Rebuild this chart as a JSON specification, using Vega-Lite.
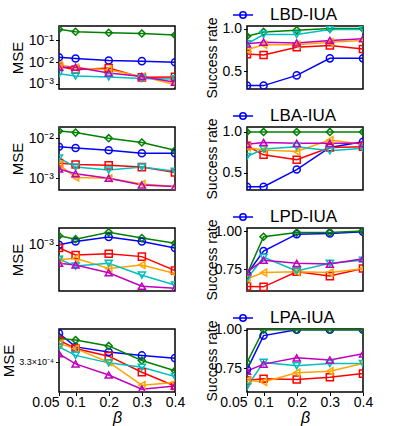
{
 "$schema": "https://vega.github.io/schema/vega-lite/v6.json",
 "padding": {"left": 0, "top": 3, "right": 5, "bottom": 0},
 "spacing": {"row": 5, "column": 18},
 "columns": 2,
 "resolve": {"scale": {"color": "independent", "stroke": "independent", "shape": "independent", "size": "independent"}, "legend": {"color": "independent", "stroke": "independent", "shape": "independent", "size": "independent"}},
 "config": {
  "font": "Liberation Sans",
  "view": {"stroke": "black", "strokeWidth": 1.5},
  "axis": {"domain": false, "grid": false, "tickColor": "black", "tickSize": 3.5, "tickWidth": 1, "labelColor": "black", "labelFontSize": 14, "labelPadding": 2, "titleColor": "black", "titleFontWeight": "normal", "titleFontSize": 14, "labelFlush": false, "labelOverlap": false},
  "legend": {"labelColor": "black", "padding": 0}
 },
 "data": {"values": [
  {"p":"1m","s":"S1","b":0.05,"v":0.0166},{"p":"1m","s":"S1","b":0.1,"v":0.0145},{"p":"1m","s":"S1","b":0.2,"v":0.0117},{"p":"1m","s":"S1","b":0.3,"v":0.011},{"p":"1m","s":"S1","b":0.4,"v":0.0098},
  {"p":"1m","s":"S2","b":0.05,"v":0.31},{"p":"1m","s":"S2","b":0.1,"v":0.24},{"p":"1m","s":"S2","b":0.2,"v":0.216},{"p":"1m","s":"S2","b":0.3,"v":0.2},{"p":"1m","s":"S2","b":0.4,"v":0.17},
  {"p":"1m","s":"S3","b":0.05,"v":0.0063},{"p":"1m","s":"S3","b":0.1,"v":0.0045},{"p":"1m","s":"S3","b":0.2,"v":0.0053},{"p":"1m","s":"S3","b":0.3,"v":0.002},{"p":"1m","s":"S3","b":0.4,"v":0.0021},
  {"p":"1m","s":"S6","b":0.05,"v":0.0077},{"p":"1m","s":"S6","b":0.1,"v":0.0054},{"p":"1m","s":"S6","b":0.2,"v":0.0045},{"p":"1m","s":"S6","b":0.3,"v":0.0022},{"p":"1m","s":"S6","b":0.4,"v":0.00095},
  {"p":"1m","s":"S4","b":0.05,"v":0.0029},{"p":"1m","s":"S4","b":0.1,"v":0.0023},{"p":"1m","s":"S4","b":0.2,"v":0.0021},{"p":"1m","s":"S4","b":0.3,"v":0.0018},{"p":"1m","s":"S4","b":0.4,"v":0.0017},
  {"p":"1m","s":"S5","b":0.05,"v":0.0058},{"p":"1m","s":"S5","b":0.1,"v":0.0058},{"p":"1m","s":"S5","b":0.2,"v":0.0032},{"p":"1m","s":"S5","b":0.3,"v":0.0022},{"p":"1m","s":"S5","b":0.4,"v":0.0012},

  {"p":"1s","s":"S1","b":0.05,"v":0.33},{"p":"1s","s":"S1","b":0.1,"v":0.33},{"p":"1s","s":"S1","b":0.2,"v":0.45},{"p":"1s","s":"S1","b":0.3,"v":0.65},{"p":"1s","s":"S1","b":0.4,"v":0.65},
  {"p":"1s","s":"S2","b":0.05,"v":0.91},{"p":"1s","s":"S2","b":0.1,"v":0.96},{"p":"1s","s":"S2","b":0.2,"v":0.98},{"p":"1s","s":"S2","b":0.3,"v":1.0},{"p":"1s","s":"S2","b":0.4,"v":1.0},
  {"p":"1s","s":"S3","b":0.05,"v":0.70},{"p":"1s","s":"S3","b":0.1,"v":0.69},{"p":"1s","s":"S3","b":0.2,"v":0.78},{"p":"1s","s":"S3","b":0.3,"v":0.80},{"p":"1s","s":"S3","b":0.4,"v":0.76},
  {"p":"1s","s":"S6","b":0.05,"v":0.75},{"p":"1s","s":"S6","b":0.1,"v":0.81},{"p":"1s","s":"S6","b":0.2,"v":0.81},{"p":"1s","s":"S6","b":0.3,"v":0.84},{"p":"1s","s":"S6","b":0.4,"v":0.86},
  {"p":"1s","s":"S4","b":0.05,"v":0.82},{"p":"1s","s":"S4","b":0.1,"v":0.93},{"p":"1s","s":"S4","b":0.2,"v":0.93},{"p":"1s","s":"S4","b":0.3,"v":0.99},{"p":"1s","s":"S4","b":0.4,"v":0.99},
  {"p":"1s","s":"S5","b":0.05,"v":0.82},{"p":"1s","s":"S5","b":0.1,"v":0.84},{"p":"1s","s":"S5","b":0.2,"v":0.83},{"p":"1s","s":"S5","b":0.3,"v":0.86},{"p":"1s","s":"S5","b":0.4,"v":0.88},

  {"p":"2m","s":"S1","b":0.05,"v":0.0061},{"p":"2m","s":"S1","b":0.1,"v":0.0057},{"p":"2m","s":"S1","b":0.2,"v":0.005},{"p":"2m","s":"S1","b":0.3,"v":0.0042},{"p":"2m","s":"S1","b":0.4,"v":0.0042},
  {"p":"2m","s":"S2","b":0.05,"v":0.0151},{"p":"2m","s":"S2","b":0.1,"v":0.0138},{"p":"2m","s":"S2","b":0.2,"v":0.01},{"p":"2m","s":"S2","b":0.3,"v":0.0078},{"p":"2m","s":"S2","b":0.4,"v":0.005},
  {"p":"2m","s":"S3","b":0.05,"v":0.0024},{"p":"2m","s":"S3","b":0.1,"v":0.0022},{"p":"2m","s":"S3","b":0.2,"v":0.0021},{"p":"2m","s":"S3","b":0.3,"v":0.0019},{"p":"2m","s":"S3","b":0.4,"v":0.0014},
  {"p":"2m","s":"S6","b":0.05,"v":0.0022},{"p":"2m","s":"S6","b":0.1,"v":0.00105},{"p":"2m","s":"S6","b":0.2,"v":0.001},{"p":"2m","s":"S6","b":0.3,"v":0.00072},{"p":"2m","s":"S6","b":0.4,"v":0.00062},
  {"p":"2m","s":"S4","b":0.05,"v":0.0032},{"p":"2m","s":"S4","b":0.1,"v":0.0019},{"p":"2m","s":"S4","b":0.2,"v":0.0016},{"p":"2m","s":"S4","b":0.3,"v":0.0019},{"p":"2m","s":"S4","b":0.4,"v":0.0015},
  {"p":"2m","s":"S5","b":0.05,"v":0.0017},{"p":"2m","s":"S5","b":0.1,"v":0.0013},{"p":"2m","s":"S5","b":0.2,"v":0.001},{"p":"2m","s":"S5","b":0.3,"v":0.00068},{"p":"2m","s":"S5","b":0.4,"v":0.00062},

  {"p":"2s","s":"S1","b":0.05,"v":0.33},{"p":"2s","s":"S1","b":0.1,"v":0.33},{"p":"2s","s":"S1","b":0.2,"v":0.54},{"p":"2s","s":"S1","b":0.3,"v":0.81},{"p":"2s","s":"S1","b":0.4,"v":0.88},
  {"p":"2s","s":"S2","b":0.05,"v":1.0},{"p":"2s","s":"S2","b":0.1,"v":1.0},{"p":"2s","s":"S2","b":0.2,"v":1.0},{"p":"2s","s":"S2","b":0.3,"v":1.0},{"p":"2s","s":"S2","b":0.4,"v":1.0},
  {"p":"2s","s":"S3","b":0.05,"v":0.83},{"p":"2s","s":"S3","b":0.1,"v":0.72},{"p":"2s","s":"S3","b":0.2,"v":0.66},{"p":"2s","s":"S3","b":0.3,"v":0.81},{"p":"2s","s":"S3","b":0.4,"v":0.82},
  {"p":"2s","s":"S6","b":0.05,"v":0.81},{"p":"2s","s":"S6","b":0.1,"v":0.78},{"p":"2s","s":"S6","b":0.2,"v":0.76},{"p":"2s","s":"S6","b":0.3,"v":0.90},{"p":"2s","s":"S6","b":0.4,"v":0.85},
  {"p":"2s","s":"S4","b":0.05,"v":0.70},{"p":"2s","s":"S4","b":0.1,"v":0.79},{"p":"2s","s":"S4","b":0.2,"v":0.82},{"p":"2s","s":"S4","b":0.3,"v":0.77},{"p":"2s","s":"S4","b":0.4,"v":0.80},
  {"p":"2s","s":"S5","b":0.05,"v":0.85},{"p":"2s","s":"S5","b":0.1,"v":0.87},{"p":"2s","s":"S5","b":0.2,"v":0.86},{"p":"2s","s":"S5","b":0.3,"v":0.86},{"p":"2s","s":"S5","b":0.4,"v":0.86},

  {"p":"3m","s":"S1","b":0.05,"v":0.001},{"p":"3m","s":"S1","b":0.1,"v":0.00113},{"p":"3m","s":"S1","b":0.2,"v":0.00133},{"p":"3m","s":"S1","b":0.3,"v":0.00113},{"p":"3m","s":"S1","b":0.4,"v":0.00089},
  {"p":"3m","s":"S2","b":0.05,"v":0.00139},{"p":"3m","s":"S2","b":0.1,"v":0.00123},{"p":"3m","s":"S2","b":0.2,"v":0.00158},{"p":"3m","s":"S2","b":0.3,"v":0.00128},{"p":"3m","s":"S2","b":0.4,"v":0.00106},
  {"p":"3m","s":"S3","b":0.05,"v":0.00089},{"p":"3m","s":"S3","b":0.1,"v":0.00069},{"p":"3m","s":"S3","b":0.2,"v":0.00072},{"p":"3m","s":"S3","b":0.3,"v":0.00065},{"p":"3m","s":"S3","b":0.4,"v":0.00039},
  {"p":"3m","s":"S6","b":0.05,"v":0.00058},{"p":"3m","s":"S6","b":0.1,"v":0.00061},{"p":"3m","s":"S6","b":0.2,"v":0.00042},{"p":"3m","s":"S6","b":0.3,"v":0.00048},{"p":"3m","s":"S6","b":0.4,"v":0.00035},
  {"p":"3m","s":"S4","b":0.05,"v":0.00059},{"p":"3m","s":"S4","b":0.1,"v":0.00046},{"p":"3m","s":"S4","b":0.2,"v":0.00051},{"p":"3m","s":"S4","b":0.3,"v":0.00033},{"p":"3m","s":"S4","b":0.4,"v":0.00023},
  {"p":"3m","s":"S5","b":0.05,"v":0.00051},{"p":"3m","s":"S5","b":0.1,"v":0.00048},{"p":"3m","s":"S5","b":0.2,"v":0.00036},{"p":"3m","s":"S5","b":0.3,"v":0.00022},{"p":"3m","s":"S5","b":0.4,"v":0.000204},

  {"p":"3s","s":"S1","b":0.05,"v":0.72},{"p":"3s","s":"S1","b":0.1,"v":0.87},{"p":"3s","s":"S1","b":0.2,"v":0.98},{"p":"3s","s":"S1","b":0.3,"v":0.985},{"p":"3s","s":"S1","b":0.4,"v":0.995},
  {"p":"3s","s":"S2","b":0.05,"v":0.72},{"p":"3s","s":"S2","b":0.1,"v":0.963},{"p":"3s","s":"S2","b":0.2,"v":0.99},{"p":"3s","s":"S2","b":0.3,"v":0.99},{"p":"3s","s":"S2","b":0.4,"v":1.0},
  {"p":"3s","s":"S3","b":0.05,"v":0.64},{"p":"3s","s":"S3","b":0.1,"v":0.637},{"p":"3s","s":"S3","b":0.2,"v":0.735},{"p":"3s","s":"S3","b":0.3,"v":0.707},{"p":"3s","s":"S3","b":0.4,"v":0.757},
  {"p":"3s","s":"S6","b":0.05,"v":0.69},{"p":"3s","s":"S6","b":0.1,"v":0.73},{"p":"3s","s":"S6","b":0.2,"v":0.735},{"p":"3s","s":"S6","b":0.3,"v":0.73},{"p":"3s","s":"S6","b":0.4,"v":0.755},
  {"p":"3s","s":"S4","b":0.05,"v":0.69},{"p":"3s","s":"S4","b":0.1,"v":0.83},{"p":"3s","s":"S4","b":0.2,"v":0.74},{"p":"3s","s":"S4","b":0.3,"v":0.79},{"p":"3s","s":"S4","b":0.4,"v":0.81},
  {"p":"3s","s":"S5","b":0.05,"v":0.735},{"p":"3s","s":"S5","b":0.1,"v":0.81},{"p":"3s","s":"S5","b":0.2,"v":0.79},{"p":"3s","s":"S5","b":0.3,"v":0.785},{"p":"3s","s":"S5","b":0.4,"v":0.82},

  {"p":"4m","s":"S1","b":0.05,"v":0.000552},{"p":"4m","s":"S1","b":0.1,"v":0.000431},{"p":"4m","s":"S1","b":0.2,"v":0.000393},{"p":"4m","s":"S1","b":0.3,"v":0.000369},{"p":"4m","s":"S1","b":0.4,"v":0.000351},
  {"p":"4m","s":"S2","b":0.05,"v":0.000503},{"p":"4m","s":"S2","b":0.1,"v":0.000488},{"p":"4m","s":"S2","b":0.2,"v":0.000439},{"p":"4m","s":"S2","b":0.3,"v":0.000336},{"p":"4m","s":"S2","b":0.4,"v":0.000279},
  {"p":"4m","s":"S3","b":0.05,"v":0.000488},{"p":"4m","s":"S3","b":0.1,"v":0.000418},{"p":"4m","s":"S3","b":0.2,"v":0.000364},{"p":"4m","s":"S3","b":0.3,"v":0.000271},{"p":"4m","s":"S3","b":0.4,"v":0.000211},
  {"p":"4m","s":"S6","b":0.05,"v":0.000458},{"p":"4m","s":"S6","b":0.1,"v":0.000418},{"p":"4m","s":"S6","b":0.2,"v":0.000326},{"p":"4m","s":"S6","b":0.3,"v":0.000214},{"p":"4m","s":"S6","b":0.4,"v":0.000225},
  {"p":"4m","s":"S4","b":0.05,"v":0.000431},{"p":"4m","s":"S4","b":0.1,"v":0.000369},{"p":"4m","s":"S4","b":0.2,"v":0.000322},{"p":"4m","s":"S4","b":0.3,"v":0.000297},{"p":"4m","s":"S4","b":0.4,"v":0.000251},
  {"p":"4m","s":"S5","b":0.05,"v":0.00038},{"p":"4m","s":"S5","b":0.1,"v":0.000316},{"p":"4m","s":"S5","b":0.2,"v":0.000258},{"p":"4m","s":"S5","b":0.3,"v":0.000199},{"p":"4m","s":"S5","b":0.4,"v":0.000211},

  {"p":"4s","s":"S1","b":0.05,"v":0.74},{"p":"4s","s":"S1","b":0.1,"v":0.962},{"p":"4s","s":"S1","b":0.2,"v":1.0},{"p":"4s","s":"S1","b":0.3,"v":1.0},{"p":"4s","s":"S1","b":0.4,"v":1.0},
  {"p":"4s","s":"S2","b":0.05,"v":0.787},{"p":"4s","s":"S2","b":0.1,"v":1.0},{"p":"4s","s":"S2","b":0.2,"v":1.0},{"p":"4s","s":"S2","b":0.3,"v":1.0},{"p":"4s","s":"S2","b":0.4,"v":1.0},
  {"p":"4s","s":"S3","b":0.05,"v":0.67},{"p":"4s","s":"S3","b":0.1,"v":0.68},{"p":"4s","s":"S3","b":0.2,"v":0.676},{"p":"4s","s":"S3","b":0.3,"v":0.69},{"p":"4s","s":"S3","b":0.4,"v":0.714},
  {"p":"4s","s":"S6","b":0.05,"v":0.67},{"p":"4s","s":"S6","b":0.1,"v":0.66},{"p":"4s","s":"S6","b":0.2,"v":0.72},{"p":"4s","s":"S6","b":0.3,"v":0.73},{"p":"4s","s":"S6","b":0.4,"v":0.78},
  {"p":"4s","s":"S4","b":0.05,"v":0.63},{"p":"4s","s":"S4","b":0.1,"v":0.787},{"p":"4s","s":"S4","b":0.2,"v":0.765},{"p":"4s","s":"S4","b":0.3,"v":0.78},{"p":"4s","s":"S4","b":0.4,"v":0.78},
  {"p":"4s","s":"S5","b":0.05,"v":0.73},{"p":"4s","s":"S5","b":0.1,"v":0.776},{"p":"4s","s":"S5","b":0.2,"v":0.817},{"p":"4s","s":"S5","b":0.3,"v":0.803},{"p":"4s","s":"S5","b":0.4,"v":0.843}
 ]},
 "concat": [
  {"width":116,"height":63,"transform":[{"filter":"datum.p=='1m'"}],
   "encoding":{
    "x":{"field":"b","type":"quantitative","scale":{"domain":[0.05,0.4],"nice":false,"zero":false},"axis":null},
    "y":{"field":"v","type":"quantitative","scale":{"type":"log","domain":[0.00059,0.44],"nice":false},"axis":{"title":"MSE","titleFontSize":15,"titleX":-37,"titleY":31.5,"titleBaseline":"alphabetic","titleAngle":-90,"values":[0.1,0.01,0.001],"labelExpr":"datum.value>0.05?'10⁻¹':datum.value>0.005?'10⁻²':'10⁻³'"}}},
   "layer":[
    {"mark":{"type":"line","strokeWidth":1.5,"clip":true},"encoding":{"color":{"field":"s","type":"nominal","scale":{"domain":["S1","S2","S3","S4","S5","S6"],"range":["#0000ff","#008000","#ff0000","#00bfbf","#bf00bf","#ffa500"]},"legend":null}}},
    {"mark":{"type":"point","filled":false,"strokeWidth":1.5,"opacity":1,"clip":true},"encoding":{
      "stroke":{"field":"s","type":"nominal","scale":{"domain":["S6","S5","S4","S3","S2","S1"],"range":["#ffa500","#bf00bf","#00bfbf","#ff0000","#008000","#0000ff"]},"legend":null},
      "shape":{"field":"s","type":"nominal","scale":{"domain":["S6","S5","S4","S3","S2","S1"],"range":["triangle-left","triangle-up","triangle-down","square","diamond","circle"]},"legend":null},
      "size":{"field":"s","type":"ordinal","scale":{"domain":["S6","S5","S4","S3","S2","S1"],"range":[50,50,50,45,70,45]},"legend":null}}}
   ]},
  {"width":116,"height":63,"transform":[{"filter":"datum.p=='1s'"}],
   "encoding":{
    "x":{"field":"b","type":"quantitative","scale":{"domain":[0.05,0.4],"nice":false,"zero":false},"axis":null},
    "y":{"field":"v","type":"quantitative","scale":{"domain":[0.29,1.03],"nice":false,"zero":false},"axis":{"title":"Success rate","titleX":-31,"titleY":31.5,"titleBaseline":"alphabetic","titleAngle":-90,"values":[0.5,1],"format":".1f"}}},
   "layer":[
    {"mark":{"type":"line","strokeWidth":1.5,"clip":true},"encoding":{"color":{"field":"s","type":"nominal","scale":{"domain":["S1","S2","S3","S4","S5","S6"],"range":["#0000ff","#008000","#ff0000","#00bfbf","#bf00bf","#ffa500"]},"legend":{"values":["S1"],"labelExpr":"'LBD-IUA'","orient":"none","legendX":-15,"legendY":-22,"title":null,"symbolType":"M-1,0L1,0M-0.32,0A0.32,0.32,0,1,1,0.32,0A0.32,0.32,0,1,1,-0.32,0","symbolSize":400,"symbolStrokeWidth":1.5,"symbolFillColor":"transparent","labelFontSize":17,"labelOffset":16}}}},
    {"mark":{"type":"point","filled":false,"strokeWidth":1.5,"opacity":1,"clip":true},"encoding":{
      "stroke":{"field":"s","type":"nominal","scale":{"domain":["S6","S5","S4","S3","S2","S1"],"range":["#ffa500","#bf00bf","#00bfbf","#ff0000","#008000","#0000ff"]},"legend":null},
      "shape":{"field":"s","type":"nominal","scale":{"domain":["S6","S5","S4","S3","S2","S1"],"range":["triangle-left","triangle-up","triangle-down","square","diamond","circle"]},"legend":null},
      "size":{"field":"s","type":"ordinal","scale":{"domain":["S6","S5","S4","S3","S2","S1"],"range":[50,50,50,45,70,45]},"legend":null}}}
   ]},
  {"width":116,"height":63,"transform":[{"filter":"datum.p=='2m'"}],
   "encoding":{
    "x":{"field":"b","type":"quantitative","scale":{"domain":[0.05,0.4],"nice":false,"zero":false},"axis":null},
    "y":{"field":"v","type":"quantitative","scale":{"type":"log","domain":[0.00051,0.019],"nice":false},"axis":{"title":"MSE","titleFontSize":15,"titleX":-37,"titleY":31.5,"titleBaseline":"alphabetic","titleAngle":-90,"values":[0.01,0.001],"labelExpr":"datum.value>0.005?'10⁻²':'10⁻³'"}}},
   "layer":[
    {"mark":{"type":"line","strokeWidth":1.5,"clip":true},"encoding":{"color":{"field":"s","type":"nominal","scale":{"domain":["S1","S2","S3","S4","S5","S6"],"range":["#0000ff","#008000","#ff0000","#00bfbf","#bf00bf","#ffa500"]},"legend":null}}},
    {"mark":{"type":"point","filled":false,"strokeWidth":1.5,"opacity":1,"clip":true},"encoding":{
      "stroke":{"field":"s","type":"nominal","scale":{"domain":["S6","S5","S4","S3","S2","S1"],"range":["#ffa500","#bf00bf","#00bfbf","#ff0000","#008000","#0000ff"]},"legend":null},
      "shape":{"field":"s","type":"nominal","scale":{"domain":["S6","S5","S4","S3","S2","S1"],"range":["triangle-left","triangle-up","triangle-down","square","diamond","circle"]},"legend":null},
      "size":{"field":"s","type":"ordinal","scale":{"domain":["S6","S5","S4","S3","S2","S1"],"range":[50,50,50,45,70,45]},"legend":null}}}
   ]},
  {"width":116,"height":63,"transform":[{"filter":"datum.p=='2s'"}],
   "encoding":{
    "x":{"field":"b","type":"quantitative","scale":{"domain":[0.05,0.4],"nice":false,"zero":false},"axis":null},
    "y":{"field":"v","type":"quantitative","scale":{"domain":[0.29,1.06],"nice":false,"zero":false},"axis":{"title":"Success rate","titleX":-31,"titleY":31.5,"titleBaseline":"alphabetic","titleAngle":-90,"values":[0.5,1],"format":".1f"}}},
   "layer":[
    {"mark":{"type":"line","strokeWidth":1.5,"clip":true},"encoding":{"color":{"field":"s","type":"nominal","scale":{"domain":["S1","S2","S3","S4","S5","S6"],"range":["#0000ff","#008000","#ff0000","#00bfbf","#bf00bf","#ffa500"]},"legend":{"values":["S1"],"labelExpr":"'LBA-IUA'","orient":"none","legendX":-15,"legendY":-22,"title":null,"symbolType":"M-1,0L1,0M-0.32,0A0.32,0.32,0,1,1,0.32,0A0.32,0.32,0,1,1,-0.32,0","symbolSize":400,"symbolStrokeWidth":1.5,"symbolFillColor":"transparent","labelFontSize":17,"labelOffset":16}}}},
    {"mark":{"type":"point","filled":false,"strokeWidth":1.5,"opacity":1,"clip":true},"encoding":{
      "stroke":{"field":"s","type":"nominal","scale":{"domain":["S6","S5","S4","S3","S2","S1"],"range":["#ffa500","#bf00bf","#00bfbf","#ff0000","#008000","#0000ff"]},"legend":null},
      "shape":{"field":"s","type":"nominal","scale":{"domain":["S6","S5","S4","S3","S2","S1"],"range":["triangle-left","triangle-up","triangle-down","square","diamond","circle"]},"legend":null},
      "size":{"field":"s","type":"ordinal","scale":{"domain":["S6","S5","S4","S3","S2","S1"],"range":[50,50,50,45,70,45]},"legend":null}}}
   ]},
  {"width":116,"height":63,"transform":[{"filter":"datum.p=='3m'"}],
   "encoding":{
    "x":{"field":"b","type":"quantitative","scale":{"domain":[0.05,0.4],"nice":false,"zero":false},"axis":null},
    "y":{"field":"v","type":"quantitative","scale":{"type":"log","domain":[0.000185,0.00185],"nice":false},"axis":{"title":"MSE","titleFontSize":15,"titleX":-37,"titleY":31.5,"titleBaseline":"alphabetic","titleAngle":-90,"values":[0.001],"labelExpr":"'10⁻³'"}}},
   "layer":[
    {"mark":{"type":"line","strokeWidth":1.5,"clip":true},"encoding":{"color":{"field":"s","type":"nominal","scale":{"domain":["S1","S2","S3","S4","S5","S6"],"range":["#0000ff","#008000","#ff0000","#00bfbf","#bf00bf","#ffa500"]},"legend":null}}},
    {"mark":{"type":"point","filled":false,"strokeWidth":1.5,"opacity":1,"clip":true},"encoding":{
      "stroke":{"field":"s","type":"nominal","scale":{"domain":["S6","S5","S4","S3","S2","S1"],"range":["#ffa500","#bf00bf","#00bfbf","#ff0000","#008000","#0000ff"]},"legend":null},
      "shape":{"field":"s","type":"nominal","scale":{"domain":["S6","S5","S4","S3","S2","S1"],"range":["triangle-left","triangle-up","triangle-down","square","diamond","circle"]},"legend":null},
      "size":{"field":"s","type":"ordinal","scale":{"domain":["S6","S5","S4","S3","S2","S1"],"range":[50,50,50,45,70,45]},"legend":null}}}
   ]},
  {"width":116,"height":63,"transform":[{"filter":"datum.p=='3s'"}],
   "encoding":{
    "x":{"field":"b","type":"quantitative","scale":{"domain":[0.05,0.4],"nice":false,"zero":false},"axis":null},
    "y":{"field":"v","type":"quantitative","scale":{"domain":[0.61,1.02],"nice":false,"zero":false},"axis":{"title":"Success rate","titleX":-31,"titleY":31.5,"titleBaseline":"alphabetic","titleAngle":-90,"values":[0.75,1],"format":".2f"}}},
   "layer":[
    {"mark":{"type":"line","strokeWidth":1.5,"clip":true},"encoding":{"color":{"field":"s","type":"nominal","scale":{"domain":["S1","S2","S3","S4","S5","S6"],"range":["#0000ff","#008000","#ff0000","#00bfbf","#bf00bf","#ffa500"]},"legend":{"values":["S1"],"labelExpr":"'LPD-IUA'","orient":"none","legendX":-15,"legendY":-22,"title":null,"symbolType":"M-1,0L1,0M-0.32,0A0.32,0.32,0,1,1,0.32,0A0.32,0.32,0,1,1,-0.32,0","symbolSize":400,"symbolStrokeWidth":1.5,"symbolFillColor":"transparent","labelFontSize":17,"labelOffset":16}}}},
    {"mark":{"type":"point","filled":false,"strokeWidth":1.5,"opacity":1,"clip":true},"encoding":{
      "stroke":{"field":"s","type":"nominal","scale":{"domain":["S6","S5","S4","S3","S2","S1"],"range":["#ffa500","#bf00bf","#00bfbf","#ff0000","#008000","#0000ff"]},"legend":null},
      "shape":{"field":"s","type":"nominal","scale":{"domain":["S6","S5","S4","S3","S2","S1"],"range":["triangle-left","triangle-up","triangle-down","square","diamond","circle"]},"legend":null},
      "size":{"field":"s","type":"ordinal","scale":{"domain":["S6","S5","S4","S3","S2","S1"],"range":[50,50,50,45,70,45]},"legend":null}}}
   ]},
  {"width":116,"height":63,"transform":[{"filter":"datum.p=='4m'"}],
   "encoding":{
    "x":{"field":"b","type":"quantitative","scale":{"domain":[0.05,0.4],"nice":false,"zero":false},"axis":{"title":"β","titleFontStyle":"italic","titleFontSize":16,"titlePadding":0,"labelPadding":0,"values":[0.05,0.1,0.2,0.3,0.4],"labelExpr":"datum.value==0.05?'0.05':format(datum.value,'.1f')","labelAlign":{"condition":{"test":"datum.value==0.05","value":"right"},"value":"center"}}},
    "y":{"field":"v","type":"quantitative","scale":{"type":"log","domain":[0.000189,0.000598],"nice":false},"axis":{"title":"MSE","titleFontSize":15,"titleX":-46,"titleY":31.5,"titleBaseline":"alphabetic","titleAngle":-90,"values":[0.00033],"labelExpr":"'3.3×10⁻⁴'","labelFontSize":9}}},
   "layer":[
    {"mark":{"type":"line","strokeWidth":1.5,"clip":true},"encoding":{"color":{"field":"s","type":"nominal","scale":{"domain":["S1","S2","S3","S4","S5","S6"],"range":["#0000ff","#008000","#ff0000","#00bfbf","#bf00bf","#ffa500"]},"legend":null}}},
    {"mark":{"type":"point","filled":false,"strokeWidth":1.5,"opacity":1,"clip":true},"encoding":{
      "stroke":{"field":"s","type":"nominal","scale":{"domain":["S6","S5","S4","S3","S2","S1"],"range":["#ffa500","#bf00bf","#00bfbf","#ff0000","#008000","#0000ff"]},"legend":null},
      "shape":{"field":"s","type":"nominal","scale":{"domain":["S6","S5","S4","S3","S2","S1"],"range":["triangle-left","triangle-up","triangle-down","square","diamond","circle"]},"legend":null},
      "size":{"field":"s","type":"ordinal","scale":{"domain":["S6","S5","S4","S3","S2","S1"],"range":[50,50,50,45,70,45]},"legend":null}}}
   ]},
  {"width":116,"height":63,"transform":[{"filter":"datum.p=='4s'"}],
   "encoding":{
    "x":{"field":"b","type":"quantitative","scale":{"domain":[0.05,0.4],"nice":false,"zero":false},"axis":{"title":"β","titleFontStyle":"italic","titleFontSize":16,"titlePadding":0,"labelPadding":0,"values":[0.05,0.1,0.2,0.3,0.4],"labelExpr":"datum.value==0.05?'0.05':format(datum.value,'.1f')","labelDx":-4,"labelAlign":{"condition":{"test":"datum.value==0.05","value":"right"},"value":"center"}}},
    "y":{"field":"v","type":"quantitative","scale":{"domain":[0.594,1.005],"nice":false,"zero":false},"axis":{"title":"Success rate","titleX":-31,"titleY":31.5,"titleBaseline":"alphabetic","titleAngle":-90,"values":[0.75,1],"format":".2f"}}},
   "layer":[
    {"mark":{"type":"line","strokeWidth":1.5,"clip":true},"encoding":{"color":{"field":"s","type":"nominal","scale":{"domain":["S1","S2","S3","S4","S5","S6"],"range":["#0000ff","#008000","#ff0000","#00bfbf","#bf00bf","#ffa500"]},"legend":{"values":["S1"],"labelExpr":"'LPA-IUA'","orient":"none","legendX":-15,"legendY":-22,"title":null,"symbolType":"M-1,0L1,0M-0.32,0A0.32,0.32,0,1,1,0.32,0A0.32,0.32,0,1,1,-0.32,0","symbolSize":400,"symbolStrokeWidth":1.5,"symbolFillColor":"transparent","labelFontSize":17,"labelOffset":16}}}},
    {"mark":{"type":"point","filled":false,"strokeWidth":1.5,"opacity":1,"clip":true},"encoding":{
      "stroke":{"field":"s","type":"nominal","scale":{"domain":["S6","S5","S4","S3","S2","S1"],"range":["#ffa500","#bf00bf","#00bfbf","#ff0000","#008000","#0000ff"]},"legend":null},
      "shape":{"field":"s","type":"nominal","scale":{"domain":["S6","S5","S4","S3","S2","S1"],"range":["triangle-left","triangle-up","triangle-down","square","diamond","circle"]},"legend":null},
      "size":{"field":"s","type":"ordinal","scale":{"domain":["S6","S5","S4","S3","S2","S1"],"range":[50,50,50,45,70,45]},"legend":null}}}
   ]}
 ]
}
